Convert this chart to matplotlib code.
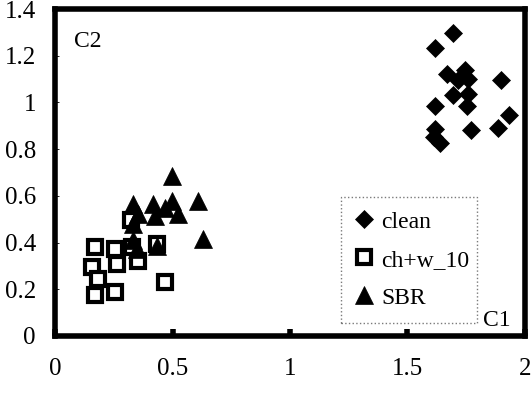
import numpy as np
import matplotlib
matplotlib.use("Agg")
import matplotlib.pyplot as plt

plt.rcParams['font.family'] = ['Liberation Serif', 'DejaVu Serif']

# clean
clean_c1 = [1.695, 1.617, 1.670, 1.745, 1.716, 1.758, 1.897, 1.695, 1.759, 1.755,
            1.617, 1.934, 1.887, 1.769, 1.617, 1.613, 1.639]
clean_c2 = [1.298, 1.231, 1.120, 1.140, 1.098, 1.102, 1.097, 1.033, 1.035, 0.983,
            0.983, 0.945, 0.891, 0.881, 0.888, 0.851, 0.827]

# ch+w_10
chw_c1 = [0.169, 0.254, 0.261, 0.155, 0.183, 0.169, 0.254, 0.467, 0.432, 0.353,
          0.325, 0.322]
chw_c2 = [0.380, 0.373, 0.309, 0.295, 0.246, 0.174, 0.189, 0.231, 0.394, 0.323,
          0.380, 0.497]

# SBR
sbr_c1 = [0.496, 0.332, 0.417, 0.496, 0.609, 0.524, 0.424, 0.353, 0.467, 0.630,
          0.331, 0.332, 0.432, 0.346]
sbr_c2 = [0.685, 0.565, 0.565, 0.579, 0.579, 0.522, 0.515, 0.522, 0.550, 0.416,
          0.481, 0.409, 0.387, 0.373]

xticks = [0, 0.5, 1, 1.5, 2]
xticklabels = ['0', '0.5', '1', '1.5', '2']
yticks = [0, 0.2, 0.4, 0.6, 0.8, 1.0, 1.2, 1.4]
yticklabels = ['0', '0.2', '0.4', '0.6', '0.8', '1', '1.2', '1.4']

fig = plt.figure(figsize=(5.31, 3.94), dpi=100)
ax = fig.add_axes([55.4 / 531, (394 - 336) / 394, 469.4 / 531, 327 / 394])

ax.plot(clean_c1, clean_c2, linestyle='none', marker='D', ms=9.5, color='black',
        mec='black', mew=0.5, label='clean')
ax.plot(chw_c1, chw_c2, linestyle='none', marker='s', ms=10, mfc='white',
        mec='black', mew=3, label='ch+w_10')
ax.plot(sbr_c1, sbr_c2, linestyle='none', marker='^', ms=13, color='black',
        mec='black', mew=0.5, label='SBR')

ax.set_xlim(0, 2)
ax.set_ylim(0, 1.4)
ax.set_xticks(xticks)
ax.set_xticklabels(xticklabels)
ax.set_yticks(yticks)
ax.set_yticklabels(yticklabels)
ax.tick_params(axis='x', direction='in', length=5, width=4, pad=16, labelsize=18)
ax.tick_params(axis='y', direction='in', length=3, width=0.6, pad=14, labelsize=18)

for s in ax.spines.values():
    s.set_linewidth(4)

ax.text(0.04, 0.885, 'C2', transform=ax.transAxes, fontsize=17)
ax.text(0.912, 0.03, 'C1', transform=ax.transAxes, fontsize=17)

leg = ax.legend(loc='lower left', bbox_to_anchor=(0.608, 0.040, 0.29, 0.397),
                mode='expand', fontsize=17, frameon=True, fancybox=False,
                handlelength=0.8, handletextpad=0.3, labelspacing=0.7,
                borderpad=0.6, borderaxespad=0, markerscale=1.0)
fr = leg.get_frame()
fr.set_linestyle(':')
fr.set_edgecolor('0.35')
fr.set_linewidth(1.0)

fig.savefig('out.png', dpi=100)
